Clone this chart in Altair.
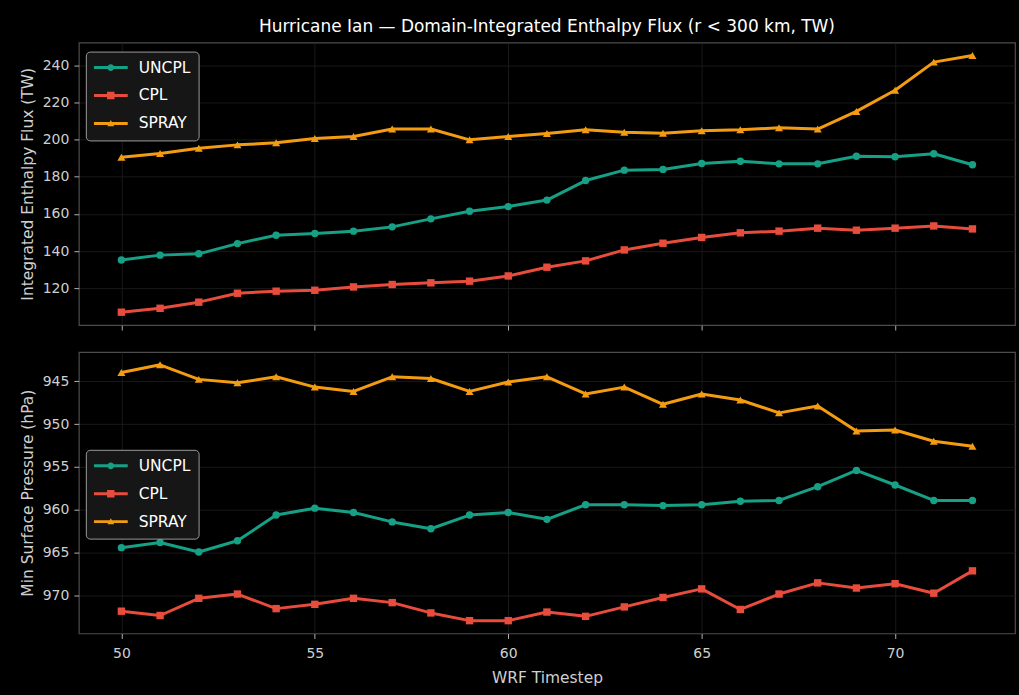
import altair as alt
import pandas as pd

# WRF output timesteps
steps = list(range(50, 73))

series = ["UNCPL", "CPL", "SPRAY"]
colors = ["#16a085", "#e74c3c", "#f39c12"]
markers = ["circle", "square", "triangle-up"]
marker_sizes = [55, 55, 65]

# Domain-integrated enthalpy flux, r < 300 km (TW)
flux_uncpl = [135.2, 137.8, 138.5, 144.0, 148.5, 149.4, 150.7, 153.0, 157.3, 161.4, 163.9, 167.4,
              177.9, 183.5, 183.9, 187.1, 188.3, 186.9, 186.9, 191.0, 190.7, 192.3, 186.4]
flux_cpl = [107.1, 109.2, 112.5, 117.3, 118.4, 118.9, 120.7, 122.0, 122.9, 123.8, 126.6, 131.3,
            134.7, 140.6, 144.2, 147.3, 149.8, 150.7, 152.3, 151.2, 152.3, 153.5, 151.9]
flux_spray = [190.5, 192.5, 195.3, 197.1, 198.2, 200.5, 201.6, 205.6, 205.6, 199.8, 201.6, 203.2,
              205.2, 203.9, 203.4, 204.7, 205.2, 206.3, 205.6, 215.1, 226.5, 241.6, 245.2]

# Minimum surface pressure (hPa)
psfc_uncpl = [964.4, 963.8, 964.9, 963.6, 960.6, 959.8, 960.3, 961.4, 962.2, 960.6, 960.3, 961.1,
              959.4, 959.4, 959.5, 959.4, 959.0, 958.9, 957.3, 955.4, 957.1, 958.9, 958.9]
psfc_cpl = [971.8, 972.3, 970.3, 969.8, 971.5, 971.0, 970.3, 970.8, 972.0, 972.9, 972.9, 971.9,
            972.4, 971.3, 970.2, 969.2, 971.6, 969.8, 968.5, 969.1, 968.6, 969.7, 967.1]
psfc_spray = [944.0, 943.1, 944.8, 945.2, 944.5, 945.7, 946.2, 944.5, 944.7, 946.2, 945.1, 944.5,
              946.5, 945.7, 947.7, 946.5, 947.2, 948.7, 947.9, 950.8, 950.7, 952.0, 952.6]

x_ticks = [50, 55, 60, 65, 70]
flux_ticks = [120, 140, 160, 180, 200, 220, 240]
psfc_ticks = [945, 950, 955, 960, 965, 970]

FONT = "DejaVu Sans"

# Legend glyphs: a short line segment with the series marker on top
legend_paths = [
    "M-1,-0.085H1V0.085H-1Z M0.2,0A0.2,0.2,0,1,1,-0.2,0A0.2,0.2,0,1,1,0.2,0Z",
    "M-1,-0.085H1V0.085H-1Z M-0.22,-0.22H0.22V0.22H-0.22Z",
    "M-1,-0.085H1V0.085H-1Z M0,-0.2L0.2,0.16L-0.2,0.16Z",
]


def long_table(values_by_series):
    rows = []
    for name, vals in zip(series, values_by_series):
        for s, v in zip(steps, vals):
            rows.append({"step": s, "value": v, "series": name})
    return pd.DataFrame(rows)


def padded(lo, hi, frac=0.05):
    pad = (hi - lo) * frac
    return [lo - pad, hi + pad]


x_domain = padded(min(steps), max(steps))


def panel(df, y_title, y_ticks, reverse, legend_y, bottom, height, title=None):
    y_domain = padded(df["value"].min(), df["value"].max())
    x = alt.X(
        "step:Q",
        scale=alt.Scale(domain=x_domain, nice=False, zero=False),
        axis=alt.Axis(
            values=x_ticks,
            labels=bottom,
            title="WRF Timestep" if bottom else None,
            labelPadding=8,
            titlePadding=10,
        ),
    )
    y = alt.Y(
        "value:Q",
        scale=alt.Scale(domain=y_domain, nice=False, zero=False, reverse=reverse),
        axis=alt.Axis(values=y_ticks, title=y_title),
    )
    layers = []
    for name, color, shape, size in zip(series, colors, markers, marker_sizes):
        layers.append(
            alt.Chart(df)
            .transform_filter(alt.datum.series == name)
            .mark_line(
                color=color,
                strokeWidth=3,
                strokeJoin="round",
                point=alt.OverlayMarkDef(
                    shape=shape, filled=True, size=size, color=color, opacity=1
                ),
            )
            .encode(x=x, y=y)
        )
    leg = alt.Legend(
        title=None,
        orient="none",
        legendX=7,
        legendY=legend_y,
        fillColor="#161616",
        strokeColor="#9a9a9a",
        cornerRadius=4,
        padding=8,
        rowPadding=11,
        clipHeight=16,
        labelColor="#ffffff",
        labelFont=FONT,
        labelFontSize=15.5,
        labelOffset=11,
        symbolSize=1156,
        symbolStrokeWidth=0,
    )
    key = (
        alt.Chart(df)
        .transform_filter("false")
        .mark_point(filled=True, opacity=1)
        .encode(
            color=alt.Color("series:N", scale=alt.Scale(domain=series, range=colors), legend=leg),
            shape=alt.Shape("series:N", scale=alt.Scale(domain=series, range=legend_paths), legend=leg),
        )
    )
    props = dict(width=938, height=height)
    if title is not None:
        props["title"] = title
    return alt.layer(*layers, key).properties(**props)


flux_df = long_table([flux_uncpl, flux_cpl, flux_spray])
psfc_df = long_table([psfc_uncpl, psfc_cpl, psfc_spray])

title = alt.TitleParams(
    "Hurricane Ian — Domain-Integrated Enthalpy Flux (r < 300 km, TW)",
    anchor="middle",
    frame="group",
    font=FONT,
    fontSize=17,
    fontWeight="normal",
    color="#ffffff",
    offset=7,
)

top = panel(flux_df, "Integrated Enthalpy Flux (TW)", flux_ticks, False, 9, False, 283, title)
bottom = panel(psfc_df, "Min Surface Pressure (hPa)", psfc_ticks, True, 98, True, 282)

chart = (
    alt.vconcat(top, bottom, spacing=19)
    .resolve_scale(color="independent", shape="independent")
    .resolve_legend(color="independent", shape="independent")
    .properties(background="#000000", padding={"left": 19, "top": 16, "right": 3, "bottom": 8})
    .configure_view(stroke="#4d4d4d", strokeWidth=1.2)
    .configure_axis(
        domain=False,
        grid=True,
        gridColor="#1e1e1e",
        gridWidth=0.8,
        tickColor="#b0b0b0",
        tickSize=5,
        tickWidth=1,
        labelColor="#cfcfcf",
        labelFont=FONT,
        labelFontSize=14,
        labelPadding=5,
        titleColor="#cfcfcf",
        titleFont=FONT,
        titleFontSize=15.5,
        titleFontWeight="normal",
        titlePadding=7,
    )
)

chart.save("out.html", embed_options={"renderer": "svg", "actions": False})
